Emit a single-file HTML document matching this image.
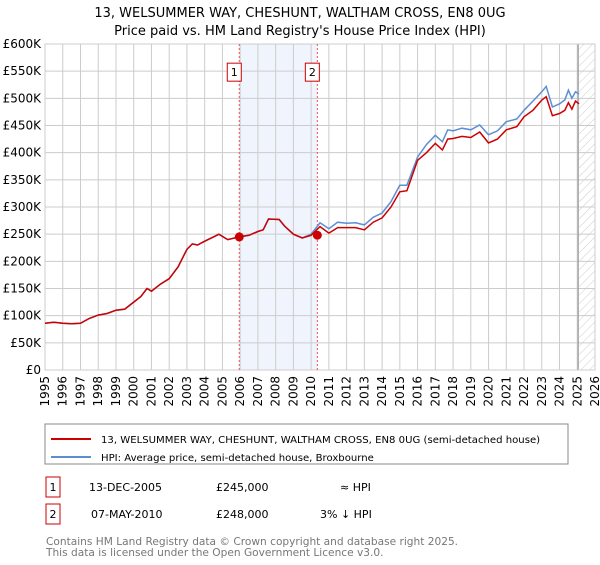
<!DOCTYPE html>
<html><head><meta charset="utf-8"><style>
body{margin:0;background:#fff;font-family:"Liberation Sans","DejaVu Sans",sans-serif;}
svg text{font-family:"DejaVu Sans","Liberation Sans",sans-serif;}
</style></head><body>
<svg id="chart" width="600" height="560" xmlns="http://www.w3.org/2000/svg">
<defs><pattern id="hatch" width="6" height="6" patternUnits="userSpaceOnUse" patternTransform="rotate(45)"><line x1="0" y1="0" x2="0" y2="6" stroke="#ccc" stroke-width="1"/></pattern></defs>
<text x="300" y="17" text-anchor="middle" font-size="13">13, WELSUMMER WAY, CHESHUNT, WALTHAM CROSS, EN8 0UG</text>
<text x="300" y="35" text-anchor="middle" font-size="13">Price paid vs. HM Land Registry's House Price Index (HPI)</text>
<g id="grid"></g><g id="marks"></g><g id="axes"></g>
<rect x="45" y="424" width="523" height="40" fill="#fff" stroke="#888"/>
<line x1="51" y1="439" x2="91" y2="439" stroke="#cc0000" stroke-width="2"/>
<text x="101" y="443" font-size="10.1">13, WELSUMMER WAY, CHESHUNT, WALTHAM CROSS, EN8 0UG (semi-detached house)</text>
<line x1="51" y1="457" x2="91" y2="457" stroke="#5b8fd4" stroke-width="2"/>
<text x="101" y="461" font-size="10.1">HPI: Average price, semi-detached house, Broxbourne</text>
<g font-size="11">
<rect x="46" y="477" width="14" height="20" fill="#fff" stroke="#cc0000"/><text x="53" y="491" text-anchor="middle">1</text>
<text x="89" y="491">13-DEC-2005</text><text x="216" y="491">£245,000</text><text x="340" y="491">≈ HPI</text></g>
<g font-size="11">
<rect x="46" y="504" width="14" height="20" fill="#fff" stroke="#cc0000"/><text x="53" y="518" text-anchor="middle">2</text>
<text x="91" y="518">07-MAY-2010</text><text x="216" y="518">£248,000</text><text x="320" y="518">3% ↓ HPI</text></g>
<text x="46" y="545" font-size="10.6" fill="#777">Contains HM Land Registry data © Crown copyright and database right 2025.</text>
<text x="46" y="556" font-size="10.6" fill="#777">This data is licensed under the Open Government Licence v3.0.</text>
</svg>
<script>
const hpiYears=[1995,1995.5,1996,1996.5,1997,1997.5,1998,1998.5,1999,1999.5,2000,2000.4,2000.75,2001,2001.5,2002,2002.5,2003,2003.3,2003.6,2004,2004.5,2004.8,2005.3,2005.95,2006.5,2007,2007.3,2007.6,2008.2,2008.5,2009,2009.5,2010,2010.5,2011,2011.5,2012,2012.5,2013,2013.5,2014,2014.5,2015,2015.4,2016,2016.5,2017,2017.4,2017.7,2018,2018.5,2019,2019.5,2020,2020.5,2021,2021.6,2022,2022.5,2023,2023.25,2023.6,2024,2024.3,2024.5,2024.7,2024.9,2025.1];
const hpiValues=[86,88,86,85,86,95,101,104,110,112,125,135,150,145,158,168,190,222,232,230,237,245,250,240,245,248,255,258,278,277,265,250,243,250,271,260,272,270,271,267,281,289,310,340,340,392,415,432,420,442,440,445,442,451,433,440,457,462,478,495,512,522,484,490,497,515,500,512,508];
const priceValues=[86,88,86,85,86,95,101,104,110,112,125,135,150,145,158,168,190,222,232,230,237,245,250,240,245,248,255,258,278,277,265,250,243,248,264,252,262,262,262,258,272,280,300,328,330,386,400,417,405,425,426,430,428,438,418,425,442,448,466,478,497,503,468,472,478,492,480,495,490];
const yTicks=[0,50,100,150,200,250,300,350,400,450,500,550,600];
const yTickLabels=["£0","£50K","£100K","£150K","£200K","£250K","£300K","£350K","£400K","£450K","£500K","£550K","£600K"];
const xTicks=[1995,1996,1997,1998,1999,2000,2001,2002,2003,2004,2005,2006,2007,2008,2009,2010,2011,2012,2013,2014,2015,2016,2017,2018,2019,2020,2021,2022,2023,2024,2025,2026];
const saleYears=[2005.95,2010.35];
const salePrices=[245,248];
const saleLabels=["1","2"];
const NS="http://www.w3.org/2000/svg";
const L=45,R=595,T=44,B=370;
const xs=y=>L+(y-1995)/31*(R-L);
const ys=v=>B-v/600*(B-T);
function mk(tag,attrs,parent){const e=document.createElementNS(NS,tag);for(const k in attrs)e.setAttribute(k,attrs[k]);parent.appendChild(e);return e;}
const grid=document.getElementById('grid'),marks=document.getElementById('marks'),axes=document.getElementById('axes');
const shade=mk('rect',{x:xs(saleYears[0]),y:T,width:xs(saleYears[1])-xs(saleYears[0]),height:B-T,fill:'#f0f4fc'},grid);


const hatch=mk('rect',{x:xs(2025.1),y:T,width:R-xs(2025.1),height:B-T,fill:'url(#hatch)'},grid);


yTicks.forEach((t,i)=>{
 const g=mk('line',{x1:L,x2:R,y1:ys(t),y2:ys(t),stroke:'#ccc'},grid);
 
 
 const tx=mk('text',{x:L-4,y:ys(t)+4,'text-anchor':'end','font-size':'12'},axes);
 tx.textContent=yTickLabels[i];
 
 
});
xTicks.forEach(t=>{
 const g=mk('line',{x1:xs(t),x2:xs(t),y1:T,y2:B,stroke:'#ccc'},grid);
 
 
 const tx=mk('text',{transform:`translate(${xs(t)+4},${B+6}) rotate(-90)`,'text-anchor':'end','font-size':'12'},axes);
 tx.textContent=t;
 
 
});
const nowLine=mk('line',{x1:xs(2025.05),x2:xs(2025.05),y1:T,y2:B,stroke:'#888'},grid);


const frame=mk('rect',{x:L,y:T,width:R-L,height:B-T,fill:'none',stroke:'#ccc'},grid);


saleYears.forEach((y,i)=>{
 const v=mk('line',{x1:xs(y),x2:xs(y),y1:T,y2:B,stroke:'#e55','stroke-dasharray':'2,2'},marks);
 
 
 const r=mk('rect',{x:xs(y)-12,y:ys(550)-8,width:14,height:18,fill:'#fff',stroke:'#cc0000'},marks);
 
 
 const t=mk('text',{x:xs(y)-5,y:ys(550)+5,'text-anchor':'middle','font-size':'11'},marks);
 t.textContent=saleLabels[i];
 
 
});
const hp=mk('path',{d:hpiYears.map((y,i)=>(i?'L':'M')+xs(y).toFixed(1)+','+ys(hpiValues[i]).toFixed(1)).join(''),fill:'none',stroke:'#5b8fd4','stroke-width':1.5},marks);


const pp=mk('path',{d:hpiYears.map((y,i)=>(i?'L':'M')+xs(y).toFixed(1)+','+ys(priceValues[i]).toFixed(1)).join(''),fill:'none',stroke:'#cc0000','stroke-width':1.5},marks);


saleYears.forEach((y,i)=>{
 const c=mk('circle',{cx:xs(y),cy:ys(salePrices[i]),r:4.5,fill:'#cc0000'},marks);
 
 
});
</script>
</body></html>
